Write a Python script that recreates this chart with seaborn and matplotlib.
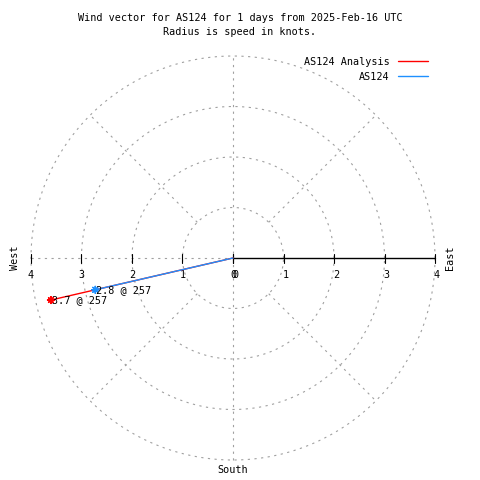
import numpy as np
import pandas as pd
import matplotlib
matplotlib.use("Agg")
import matplotlib.pyplot as plt
import seaborn as sns

# data
series = ["AS124 Analysis", "AS124"]
speeds = [3.7, 2.8]          # knots
directions = [257, 257]      # degrees
colors = ["#ff0000", "#1e90ff"]
rings = [1, 2, 3, 4]
title = "Wind vector for AS124 for 1 days from 2025-Feb-16 UTC\nRadius is speed in knots."

sns.set_style("white")
plt.rcParams["font.family"] = ["DejaVu Sans Mono"]
plt.rcParams["text.color"] = "black"
fs = 7.3

# pixel layout: centre at (233, 258), 50.5 px per knot
cx, cy, k = 233, 258, 50.5
fig = plt.figure(figsize=(4.8, 4.8), dpi=100)
ax = fig.add_axes([0, 0, 1, 1])
ax.set_xlim(-cx / k, (480 - cx) / k)
ax.set_ylim(-(480 - cy) / k, cy / k)
ax.set_axis_off()

grid = dict(color="#a0a0a0", lw=0.8, ls=(0, (2, 4)), zorder=1)
t = np.linspace(0, 2 * np.pi, 400)
for r in rings:
    ax.plot(r * np.cos(t), r * np.sin(t), **grid)
R = rings[-1]
ax.plot([0, 0], [-R, R], **grid)
ax.plot([-R, 0], [0, 0], **grid)
for a in [45, 135, 225, 315]:
    c, s = np.cos(np.radians(a)), np.sin(np.radians(a))
    ax.plot([rings[0] * c, R * c], [rings[0] * s, R * s], **grid)

# solid east axis with ticks
ax.plot([0, R], [0, 0], color="black", lw=1, zorder=2)
for r in [0] + rings:
    for sgn in [1, -1]:
        ax.plot([sgn * r, sgn * r], [-4.5 / k, 4.5 / k], color="black", lw=0.8, zorder=2)
    ax.text(-r, -12 / k, str(r), ha="center", va="top", fontsize=fs)
    ax.text(r + 2 / k, -12 / k, str(r), ha="center", va="top", fontsize=fs)

ax.text(-218 / k, 0, "West", rotation=90, ha="center", va="center", fontsize=fs)
ax.text(217 / k, 0, "East", rotation=90, ha="center", va="center", fontsize=fs)
ax.text(0, -212 / k, "South", ha="center", va="center", fontsize=fs)

# wind vectors
rows = []
for name, sp, d in zip(series, speeds, directions):
    x = sp * np.sin(np.radians(d))
    y = sp * np.cos(np.radians(d))
    rows.append(dict(series=name, x=0.0, y=0.0, step=0))
    rows.append(dict(series=name, x=x, y=y, step=1))
df = pd.DataFrame(rows)
pal = dict(zip(series, colors))
sns.lineplot(data=df, x="x", y="y", hue="series", units="series", estimator=None,
             sort=False, palette=pal, lw=1, ax=ax, legend=False, zorder=3)
ends = df[df.step == 1]
sns.scatterplot(data=ends, x="x", y="y", hue="series", palette=pal, marker=(8, 2, 0),
                s=25, linewidth=0.9, ax=ax, legend=False, zorder=4)
for _, row in ends.iterrows():
    sp = speeds[series.index(row.series)]
    d = directions[series.index(row.series)]
    ax.text(row.x + 1 / k, row.y, f"{sp} @ {d}", ha="left", va="center", fontsize=fs, zorder=5)

handles = [plt.Line2D([], [], color=c, lw=1) for c in colors]
ax.legend(handles, series, loc="upper right", bbox_to_anchor=(428 / 480, 1 - 57 / 480),
          markerfirst=False, frameon=False, fontsize=fs, handlelength=3.0,
          handletextpad=0.8, labelspacing=0.45, borderaxespad=0, borderpad=0)

fig.text(0.5, 1 - 25 / 480, title, ha="center", va="center", fontsize=fs, linespacing=1.45)

fig.savefig("out.png", dpi=100)
